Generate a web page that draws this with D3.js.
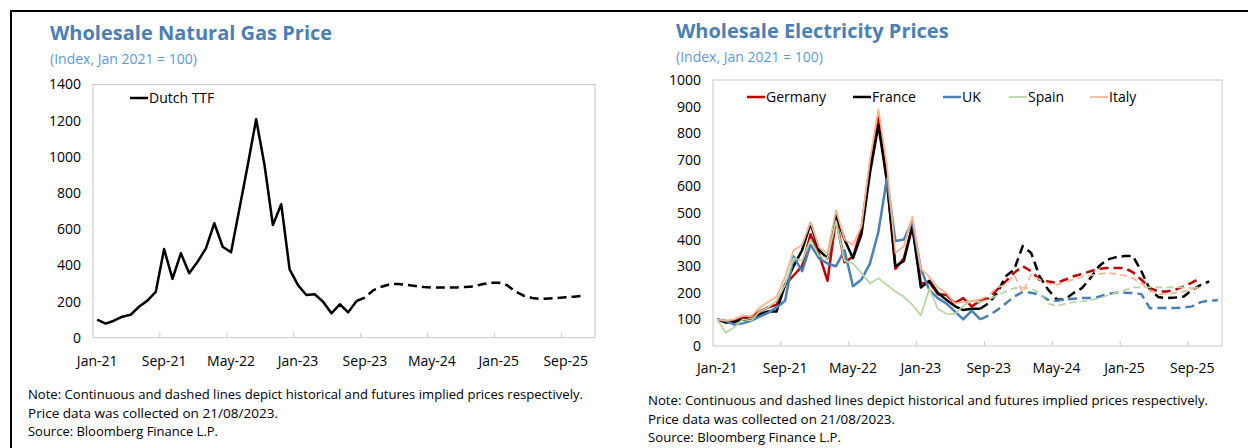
<!DOCTYPE html>
<html>
<head>
<meta charset="utf-8">
<script src="https://cdn.jsdelivr.net/npm/d3@7"></script>
<style>
body { margin: 0; background: #fff; }
text { font-family: "Open Sans", sans-serif; }
</style>
</head>
<body>
<svg id="chart" width="1248" height="448"></svg>
<script>
// monthly categories Jan-21 .. Dec-25
var months = d3.timeMonth.range(new Date(2021, 0, 1), new Date(2026, 0, 1)).map(d3.timeFormat("%b-%y"));
var tickLabels = ["Jan-21", "Sep-21", "May-22", "Jan-23", "Sep-23", "May-24", "Jan-25", "Sep-25"];

var gasTicks = [0, 200, 400, 600, 800, 1000, 1200, 1400];
var elecTicks = [0, 100, 200, 300, 400, 500, 600, 700, 800, 900, 1000];

// historical data starts Jan-21, futures start Aug-23
var histStart = "Jan-21";
var futStart = "Aug-23";

var ttfHist = [100, 78, 94, 116, 127, 171, 205, 253, 490, 325, 467, 356,
               420, 494, 633, 503, 472, 713, 955, 1208, 955, 623, 738, 378,
               291, 236, 240, 199, 135, 185, 140, 203];
var ttfFut = [203, 222, 262, 282, 296, 297, 292, 286, 280, 277, 277, 277, 278, 281, 284, 295, 304,
              304, 290, 255, 232, 220, 214, 217, 219, 223, 227, 232];

var germanyHist = [100, 90, 95, 105, 110, 130, 145, 155, 230, 265, 300, 420,
                   345, 245, 480, 315, 335, 440, 680, 860, 620, 290, 330, 450,
                   235, 240, 195, 193, 161, 180, 149, 170];
var franceHist = [100, 88, 90, 100, 97, 120, 130, 130, 230, 300, 360, 460,
                  360, 330, 490, 400, 330, 420, 650, 830, 620, 300, 320, 450,
                  220, 245, 200, 174, 150, 135, 140, 140];
var ukHist = [100, 95, 80, 85, 95, 110, 125, 145, 170, 337, 281, 380,
              330, 310, 300, 360, 225, 250, 310, 430, 630, 395, 400, 470,
              290, 210, 180, 160, 130, 100, 133, 100];
var spainHist = [100, 50, 70, 100, 95, 130, 145, 170, 230, 330, 320, 400,
                 340, 330, 470, 320, 310, 275, 235, 255, 230, 205, 185, 155,
                 115, 215, 140, 121, 120, 151, 170, 165];
var italyHist = [100, 95, 100, 115, 110, 145, 165, 185, 260, 360, 380, 465,
                 370, 350, 510, 400, 380, 450, 700, 890, 680, 350, 375, 485,
                 290, 260, 220, 200, 160, 165, 170, 175];

var germanyFut = [170, 180, 212, 243, 275, 300, 281, 249, 243, 237, 249, 262, 271, 281, 290, 293, 293,
                  293, 277, 249, 218, 205, 205, 212, 224, 239, 256];
var franceFut = [140, 161, 199, 262, 287, 375, 350, 262, 212, 176, 175, 199, 218, 256, 300, 325, 334,
                 338, 338, 281, 212, 184, 180, 182, 186, 212, 230, 243];
var ukFut = [100, 115, 135, 160, 186, 203, 200, 193, 174, 170, 175, 178, 180, 180, 185, 196, 200,
             200, 199, 195, 142, 143, 143, 143, 145, 149, 165, 171, 172];
var spainFut = [165, 175, 190, 205, 218, 220, 215, 200, 160, 150, 158, 165, 168, 172, 180, 190, 200,
                210, 220, 220, 220, 220, 220, 220, 220, 218, 220];
var italyFut = [175, 190, 220, 230, 268, 200, 268, 250, 235, 230, 240, 250, 260, 265, 270, 275, 270,
                265, 255, 235, 210, 195, 195, 200, 205, 215, 225];

var noteLines = ["Note: Continuous and dashed lines depict historical and futures implied prices respectively.",
                 "Price data was collected on 21/08/2023.",
                 "Source: Bloomberg Finance L.P."];

var svg = d3.select("#chart");

// frame
svg.append("path")
    .attr("d", "M11,448 L11,11 L1248,11")
    .attr("fill", "none")
    .attr("stroke", "#000")
    .attr("stroke-width", 2);

function toPoints(vals, start) {
    var s = months.indexOf(start);
    return vals.map(function (v, i) { return { m: months[s + i], v: v }; });
}

function panel(o) {
    var g = svg.append("g");
    var x = d3.scaleBand().domain(months).range([o.x0, o.x1]);
    var y = d3.scaleLinear().domain([0, o.max]).range([o.yBot, o.yTop]);

    g.append("text").attr("x", o.titleX).attr("y", o.titleY)
        .attr("font-size", "20px").attr("font-weight", "bold").attr("fill", "#4a7fb5")
        .text(o.title);
    g.append("text").attr("x", o.titleX).attr("y", o.titleY + 24)
        .attr("font-size", "14px").attr("fill", "#5b9bd5")
        .text("(Index, Jan 2021 = 100)");

    // plot area box
    g.append("rect")
        .attr("x", o.x0).attr("y", o.yTop)
        .attr("width", o.x1 - o.x0).attr("height", o.yBot - o.yTop)
        .attr("fill", "none").attr("stroke", "#c8c8c8").attr("stroke-width", 1);

    var ya = g.append("g")
        .attr("transform", "translate(" + o.x0 + ",0)")
        .call(d3.axisLeft(y).tickValues(o.ticks).tickFormat(d3.format("d")).tickSize(0).tickPadding(12));
    ya.select(".domain").remove();
    ya.selectAll("text").attr("font-size", "14px").attr("fill", "#000").attr("font-family", "Open Sans");

    var xa = g.append("g")
        .attr("transform", "translate(0," + o.yBot + ")")
        .call(d3.axisBottom(x).tickValues(tickLabels).tickSize(0).tickPadding(o.xPad));
    xa.select(".domain").remove();
    xa.selectAll("text").attr("font-size", "14px").attr("fill", "#000").attr("font-family", "Open Sans");

    g.selectAll(".xtick").data(tickLabels.slice(1)).enter().append("line")
        .attr("x1", function (d) { return x(d); }).attr("x2", function (d) { return x(d); })
        .attr("y1", o.yBot).attr("y2", o.yBot - 5)
        .attr("stroke", "#c8c8c8");

    var line = d3.line()
        .x(function (d) { return x(d.m) + x.bandwidth() / 2; })
        .y(function (d) { return y(d.v); });

    o.series.forEach(function (s) {
        g.append("path").datum(toPoints(s.hist, histStart))
            .attr("d", line).attr("fill", "none")
            .attr("stroke", s.color).attr("stroke-width", s.width)
            .attr("stroke-linejoin", "round");
        g.append("path").datum(toPoints(s.fut, futStart))
            .attr("d", line).attr("fill", "none")
            .attr("stroke", s.color).attr("stroke-width", s.width)
            .attr("stroke-dasharray", s.width > 2 ? "9,5" : "7,4");
    });

    // legend
    o.series.forEach(function (s, i) {
        var lx = o.legendX[i];
        g.append("line").attr("x1", lx).attr("x2", lx + 18)
            .attr("y1", o.legendY).attr("y2", o.legendY)
            .attr("stroke", s.color).attr("stroke-width", s.width);
        g.append("text").attr("x", lx + 19).attr("y", o.legendY + 5)
            .attr("font-size", "14px").attr("fill", "#000").text(s.name);
    });

    // notes
    noteLines.forEach(function (t, i) {
        g.append("text").attr("x", o.noteX).attr("y", o.noteY + i * 18.5)
            .attr("font-size", "13.5px").attr("fill", "#000")
            .attr("textLength", o.noteLen[i]).attr("lengthAdjust", "spacingAndGlyphs")
            .text(t);
    });
}

panel({
    title: "Wholesale Natural Gas Price", titleX: 50, titleY: 40,
    x0: 93, x1: 595, yTop: 84.5, yBot: 337.7, max: 1400, ticks: gasTicks, xPad: 18,
    series: [{ name: "Dutch TTF", hist: ttfHist, fut: ttfFut, color: "#000", width: 2.5 }],
    legendX: [130], legendY: 98,
    noteX: 28, noteY: 399, noteLen: [555, 250, 190]
});

panel({
    title: "Wholesale Electricity Prices", titleX: 676, titleY: 38,
    x0: 713, x1: 1222, yTop: 80, yBot: 346, max: 1000, ticks: elecTicks, xPad: 17,
    series: [
        { name: "Germany", hist: germanyHist, fut: germanyFut, color: "#c00000", width: 2.5 },
        { name: "France", hist: franceHist, fut: franceFut, color: "#000", width: 2.5 },
        { name: "UK", hist: ukHist, fut: ukFut, color: "#4a7fb5", width: 2.5 },
        { name: "Spain", hist: spainHist, fut: spainFut, color: "#b4d6a0", width: 1.75 },
        { name: "Italy", hist: italyHist, fut: italyFut, color: "#f7b48e", width: 1.75 }
    ],
    legendX: [747, 853, 943, 1009, 1090], legendY: 97,
    noteX: 648, noteY: 405, noteLen: [560, 247, 193]
});
</script>
</body>
</html>
